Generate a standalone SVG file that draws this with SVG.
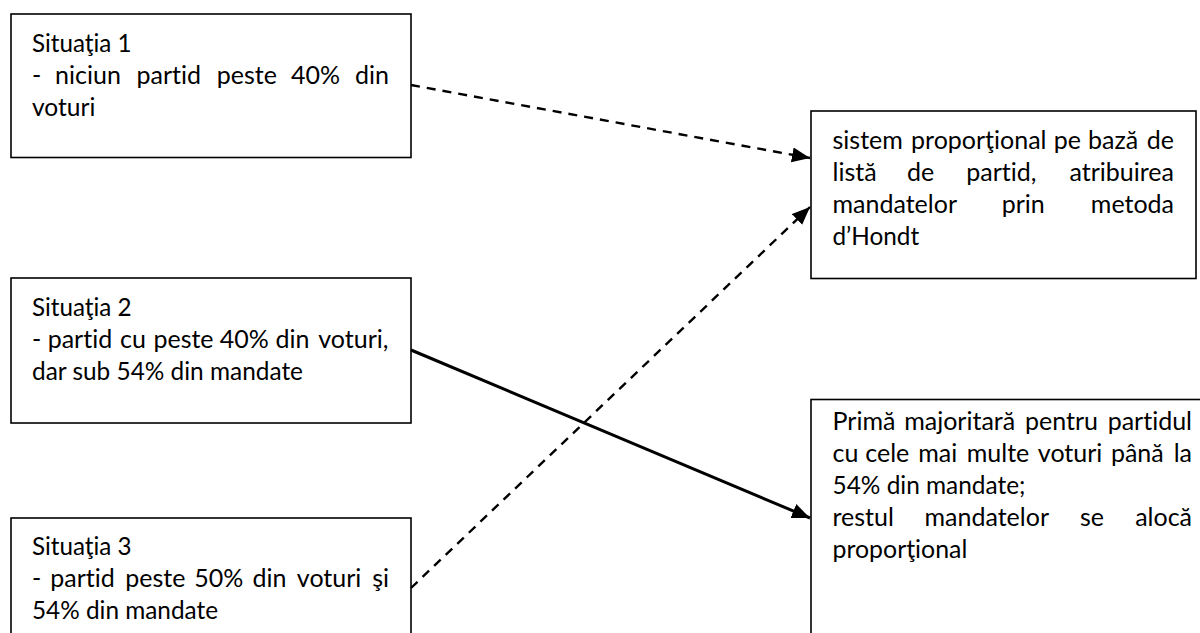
<svg xmlns="http://www.w3.org/2000/svg" width="1200" height="633" viewBox="0 0 1200 633">
<style>
.box{fill:#fff;stroke:#000;stroke-width:1.6}
.t{font-family:Lato,"Noto Sans",sans-serif;font-size:25px;fill:#000;font-variant-ligatures:none;font-feature-settings:"liga" 0,"clig" 0}
.dash{stroke:#000;stroke-width:2.4;stroke-dasharray:9 7;fill:none}
.solid{stroke:#000;stroke-width:3;fill:none}
</style>
<defs>
<marker id="ah" markerUnits="userSpaceOnUse" markerWidth="20" markerHeight="16" refX="18" refY="8" orient="auto"><path d="M0,0.5 L18,8 L0,15.5 z" fill="#000"/></marker>
</defs>
<rect width="1200" height="633" fill="#fff"/>
<g id="n1">
<rect class="box" x="11" y="14" width="400" height="143.5"/>
<text class="t" x="32" y="51.5" textLength="99.6" lengthAdjust="spacingAndGlyphs">Situaţia 1</text>
<text class="t" y="83.5"><tspan x="32">-</tspan> <tspan x="91.2" text-anchor="middle">niciun</tspan> <tspan x="171.9" text-anchor="middle">partid</tspan> <tspan x="250" text-anchor="middle">peste</tspan> <tspan x="318.7" text-anchor="middle">40%</tspan> <tspan x="389" text-anchor="end">din</tspan></text>
<text class="t" x="32" y="115.5" textLength="63.3" lengthAdjust="spacingAndGlyphs">voturi</text>
</g>
<g id="n2">
<rect class="box" x="11" y="278" width="400" height="145"/>
<text class="t" x="32" y="315.5" textLength="99.6" lengthAdjust="spacingAndGlyphs">Situaţia 2</text>
<text class="t" y="347.5"><tspan x="32">-</tspan> <tspan x="83.1" text-anchor="middle">partid</tspan> <tspan x="136.2" text-anchor="middle">cu</tspan> <tspan x="186.7" text-anchor="middle">peste</tspan> <tspan x="247.5" text-anchor="middle">40%</tspan> <tspan x="295.6" text-anchor="middle">din</tspan> <tspan x="388.5" text-anchor="end">voturi,</tspan></text>
<text class="t" x="32" y="379.5" textLength="271" lengthAdjust="spacingAndGlyphs">dar sub 54% din mandate</text>
</g>
<g id="n3">
<rect class="box" x="11" y="518" width="400" height="140"/>
<text class="t" x="32" y="555" textLength="99.6" lengthAdjust="spacingAndGlyphs">Situaţia 3</text>
<text class="t" y="587"><tspan x="32">-</tspan> <tspan x="85.7" text-anchor="middle">partid</tspan> <tspan x="158.5" text-anchor="middle">peste</tspan> <tspan x="221.9" text-anchor="middle">50%</tspan> <tspan x="272.6" text-anchor="middle">din</tspan> <tspan x="332.3" text-anchor="middle">voturi</tspan> <tspan x="389" text-anchor="end">şi</tspan></text>
<text class="t" x="32" y="619" textLength="186" lengthAdjust="spacingAndGlyphs">54% din mandate</text>
</g>
<g id="n4">
<rect class="box" x="811" y="111" width="385" height="167.5"/>
<text class="t" y="148.5"><tspan x="832.5">sistem</tspan> <tspan x="982" text-anchor="middle">proporţional</tspan> <tspan x="1070.5" text-anchor="middle">pe</tspan> <tspan x="1116.4" text-anchor="middle">bază</tspan> <tspan x="1174" text-anchor="end">de</tspan></text>
<text class="t" y="180.5"><tspan x="832.5">listă</tspan> <tspan x="923.9" text-anchor="middle">de</tspan> <tspan x="1004.5" text-anchor="middle">partid,</tspan> <tspan x="1174" text-anchor="end">atribuirea</tspan></text>
<text class="t" y="212.5"><tspan x="832.5">mandatelor</tspan> <tspan x="1026.4" text-anchor="middle">prin</tspan> <tspan x="1174" text-anchor="end">metoda</tspan></text>
<text class="t" x="832.5" y="244.5" textLength="86.7" lengthAdjust="spacingAndGlyphs">d’Hondt</text>
</g>
<g id="n5">
<rect class="box" x="811" y="399.5" width="420" height="260"/>
<text class="t" y="429.5"><tspan x="832.5">Primă</tspan> <tspan x="962.9" text-anchor="middle">majoritară</tspan> <tspan x="1064.7" text-anchor="middle">pentru</tspan> <tspan x="1192" text-anchor="end">partidul</tspan></text>
<text class="t" y="461.5"><tspan x="832.5">cu</tspan> <tspan x="890.5" text-anchor="middle">cele</tspan> <tspan x="941" text-anchor="middle">mai</tspan> <tspan x="1001.2" text-anchor="middle">multe</tspan> <tspan x="1073.3" text-anchor="middle">voturi</tspan> <tspan x="1140.5" text-anchor="middle">până</tspan> <tspan x="1192" text-anchor="end">la</tspan></text>
<text class="t" x="832.5" y="493.5" textLength="193" lengthAdjust="spacingAndGlyphs">54% din mandate;</text>
<text class="t" y="525.5"><tspan x="832.5">restul</tspan> <tspan x="989.7" text-anchor="middle">mandatelor</tspan> <tspan x="1095.1" text-anchor="middle">se</tspan> <tspan x="1192" text-anchor="end">alocă</tspan></text>
<text class="t" x="832.5" y="557.5" textLength="134.8" lengthAdjust="spacingAndGlyphs">proporţional</text>
</g>
<g id="connectors">
<path class="dash" d="M411,85 L810,158" marker-end="url(#ah)"/>
<path class="dash" d="M411,588 L810,207" marker-end="url(#ah)"/>
<path class="solid" d="M411,350 L810,518" marker-end="url(#ah)"/>
</g>
</svg>
